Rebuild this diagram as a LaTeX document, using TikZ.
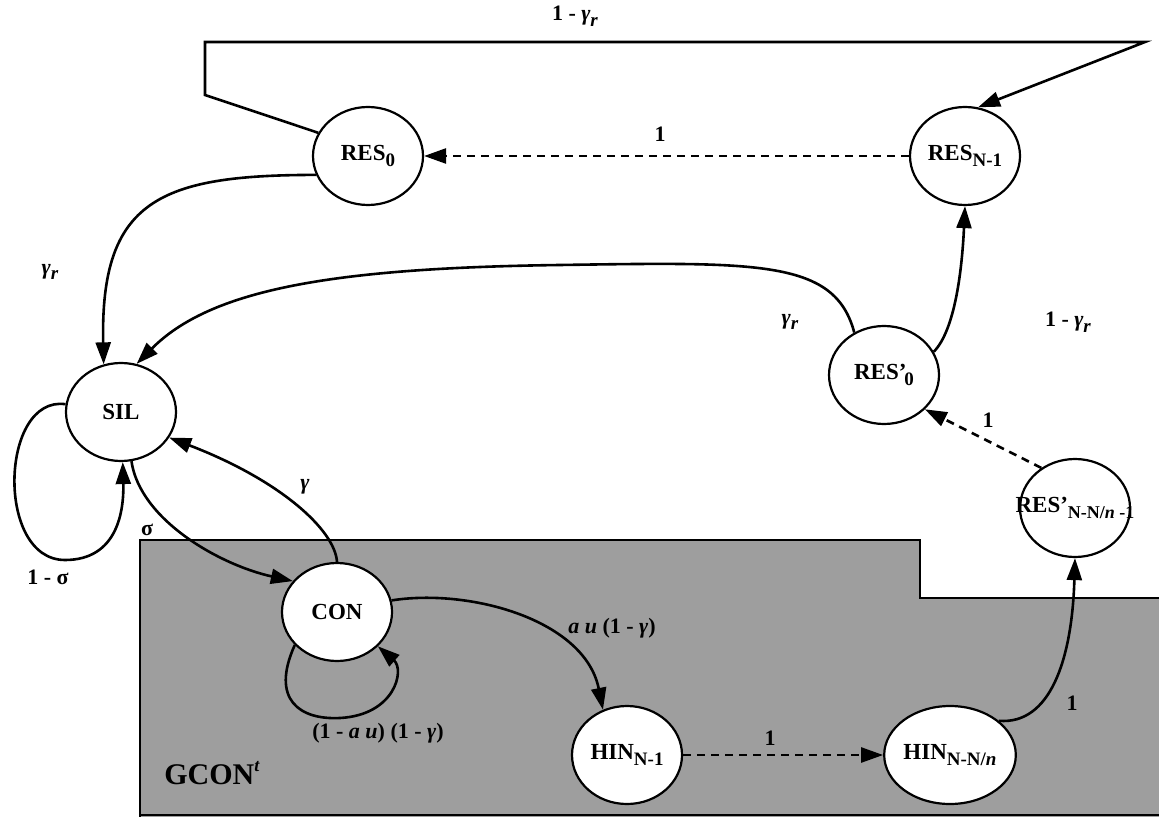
\documentclass[tikz,border=0pt]{standalone}
\usepackage{fontspec}
\setmainfont{Liberation Serif}
\usetikzlibrary{shapes.geometric,arrows.meta}
\newcommand{\lo}[1]{\raisebox{-0.55ex}{\fontsize{9.5}{9.5}\selectfont #1}}
\newcommand{\hi}[1]{\raisebox{0.9ex}{\fontsize{9}{9}\selectfont #1}}
\begin{document}
\begin{tikzpicture}[x={(0.5pt,0pt)}, y={(0pt,-0.5pt)},
  state/.style={ellipse, draw, line width=1.1pt, fill=white, minimum width=55pt, minimum height=49pt, inner sep=0pt, font=\fontsize{11.5}{13}\selectfont\bfseries},
  edge/.style={line width=1.3pt, -{Triangle[length=11pt,width=7.5pt]}},
  dedge/.style={edge, dash pattern=on 4pt off 3pt},
  lbl/.style={font=\fontsize{11}{13}\selectfont\bfseries, inner sep=1pt},
]
\useasboundingbox (0,0) rectangle (1159,817);
% shaded region
\fill[black!38] (140,540) -- (920,540) -- (920,598) -- (1159,598) -- (1159,817) -- (140,817) -- cycle;
\draw[line width=1pt] (140,817) -- (140,540) -- (920,540) -- (920,598) -- (1159,598);
\draw[line width=1pt] (140,815) -- (1159,815);

% states
\node[state] (RES0) at (368,156) {RES\lo{0}};
\node[state] (RESN) at (965,156) {RES\lo{N-1}};
\node[state] (SIL) at (121,412) {SIL};
\node[state] (RESp0) at (884,375) {RES’\kern-1pt\lo{0}};
\node[state] (RESpN) at (1075,508) {\makebox[0pt]{RES’\lo{\fontsize{9}{9}\selectfont N-N/\textit{n} -1}}};
\node[state] (CON) at (337,612) {CON};
\node[state] (HIN1) at (627,755) {HIN\lo{N-1}};
\node[state] (HINN) at (950,755) {HIN\lo{N-N/\textit{n}}};

% top loop
\coordinate (tl1) at (205,95);
\coordinate (tl2) at (205,42);
\coordinate (tr) at (1145,42);
\draw[edge] (RES0.155) -- (tl1) -- (tl2) -- (tr) -- (RESN.75);
\node[lbl] (ltop) at (575,16) {1 - \textit{γ}\lo{\textit{r}}};

\draw[dedge] (RESN) -- (RES0);
\node[lbl] (l1a) at (660,134) {1};

\draw[edge] (RES0.200) .. controls (160,175) and (100,200) .. (SIL.110);
\node[lbl] (lg1) at (50,272) {\textit{γ}\lo{\textit{r}}};

\draw[edge] (RESp0.125) .. controls (835,260) and (760,262) .. (560,265) .. controls (330,268) and (210,290) .. (SIL.72);
\node[lbl] (lg2) at (790,322) {\textit{γ}\lo{\textit{r}}};

\draw[edge] (RESp0.25) .. controls (955,330) and (962,270) .. (RESN.south);
\node[lbl] (lg3) at (1068,322) {1 - \textit{γ}\lo{\textit{r}}};

\draw[dedge] (RESpN.130) -- (RESp0.-40);
\node[lbl] (l1b) at (988,420) {1};

\draw[edge] (HINN.35) .. controls (1050,725) and (1072,660) .. (RESpN.south);
\node[lbl] (l1c) at (1072,703) {1};

\draw[dedge] (HIN1) -- (HINN);
\node[lbl] (l1d) at (770,738) {1};

\draw[edge] (CON.12) .. controls (470,588) and (585,620) .. (HIN1.118);
\node[lbl] (lau) at (612,628) {\textit{a u} (1 - \textit{γ})};

\draw[edge] (CON.north) .. controls (335,530) and (280,480) .. (SIL.-28);
\node[lbl] (lgam) at (305,487) {\textit{γ}};

\draw[edge] (SIL.-78) .. controls (140,520) and (220,565) .. (CON.145);
\node[lbl] (lsig) at (147,530) {σ};

\draw[edge] (SIL.172) .. controls (0,395) and (-5,560) .. (65,560) .. controls (118,560) and (124,510) .. (SIL.-88);
\node[lbl] (l1s) at (48,577) {1 - σ};

\draw[edge] (CON.218) .. controls (270,700) and (300,720) .. (340,718) .. controls (395,715) and (405,670) .. (CON.-40);
\node[lbl] (lcl) at (378,733) {(1 - \textit{a u}) (1 - \textit{γ})};

\node[font=\fontsize{15}{17}\selectfont\bfseries, inner sep=0pt] (gcon) at (212,773) {GCON\hi{\textit{t}}};
\end{tikzpicture}
\end{document}
